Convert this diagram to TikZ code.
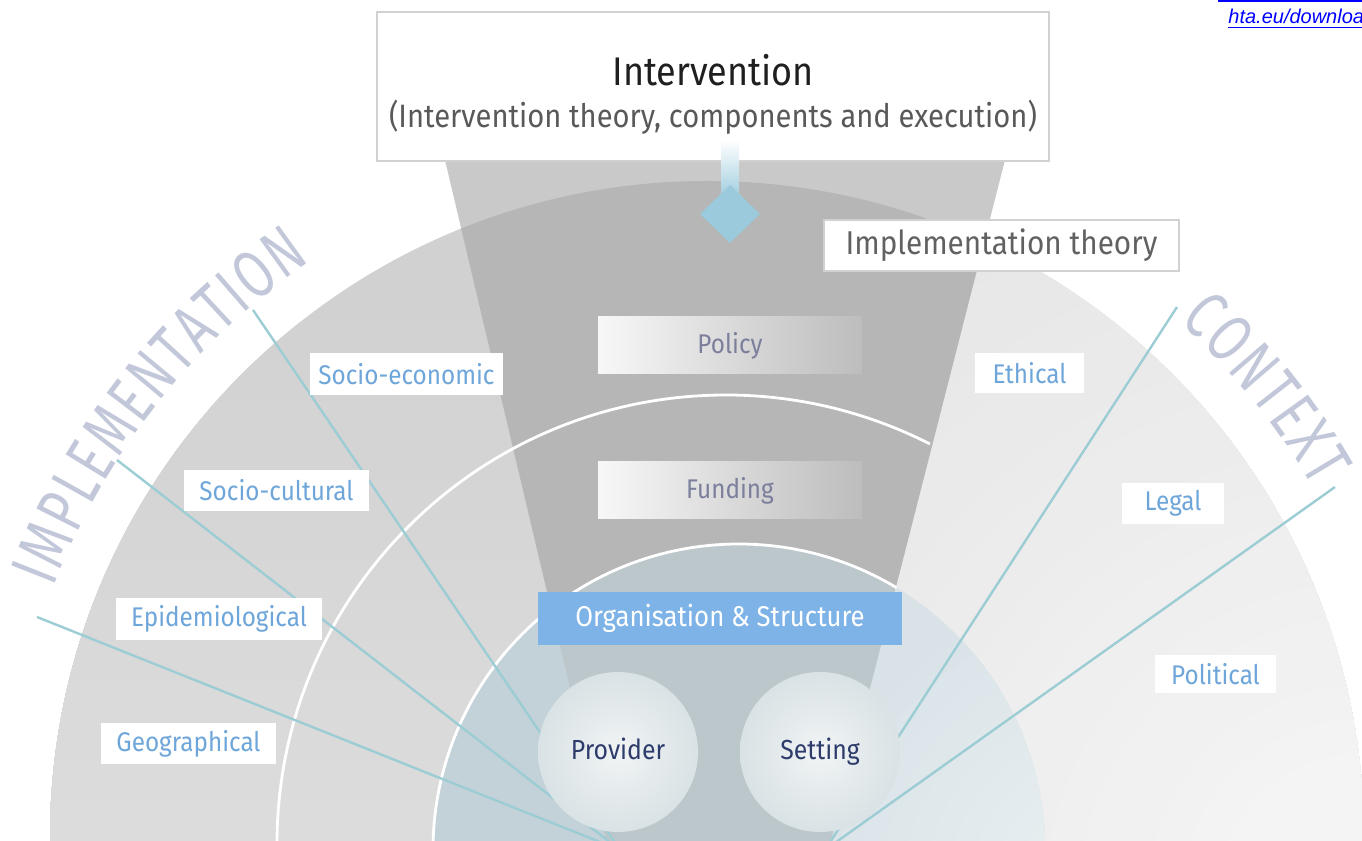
\documentclass[tikz,border=0pt]{standalone}
\usepackage{fontspec}
\setmainfont[FakeStretch=0.9]{Fira Sans}
\newfontfamily\arcfont[FakeStretch=0.72]{Fira Sans}
\newfontfamily\linkfont{Liberation Sans}
\usetikzlibrary{decorations.text}
\definecolor{labelblue}{HTML}{6EA6DA}
\definecolor{funnelout}{HTML}{C9C9C9}
\definecolor{funnelin}{HTML}{B6B6B6}
\definecolor{innerbase}{HTML}{D9E3E7}
\definecolor{innerleft}{HTML}{C3D2D8}
\definecolor{innerfun}{HTML}{BCC7CB}
\definecolor{spokecol}{HTML}{9DCDD4}
\definecolor{arccol}{HTML}{C2C8DA}
\definecolor{orgblue}{HTML}{7DB3E6}
\definecolor{arrowblue}{HTML}{9ACADC}
\definecolor{boxtext}{HTML}{7B7F9C}
\definecolor{navy}{HTML}{2E3C6C}
\definecolor{ballin}{HTML}{F1F4F5}
\definecolor{ballout}{HTML}{D9E2E5}
\definecolor{linkblue}{HTML}{0000FF}
\begin{document}
\begin{tikzpicture}[x=0.5pt,y=0.5pt,
  lbl/.style={fill=white, text=labelblue, inner sep=0pt, font=\fontsize{13.5}{16}\selectfont},
  gbox/.style={inner sep=0pt, minimum width=132pt, minimum height=28.5pt,
    left color=white!97!black, right color=white!74!black, text=boxtext,
    font=\fontsize{13.5}{16}\selectfont},
  ball/.style={circle, minimum size=80pt, inner sep=0pt, inner color=ballin,
    outer color=ballout, text=navy, text height=1.6ex, text depth=0.16ex,
    font=\fontsize{13.8}{16}\selectfont},
  spoke/.style={draw=spokecol, line width=1.2pt},
  whitearc/.style={draw=white, line width=1.4pt},
  framebox/.style={fill=white, draw=black!18, line width=0.6pt, inner sep=0pt}]
\useasboundingbox (0,0) rectangle (1362,841);
\clip (0,0) rectangle (1362,841);
\fill[white] (0,0) rectangle (1362,841);

% big disc: left (implementation) grey, lighter towards the bottom
\begin{scope}
  \clip (707,3) circle[radius=657];
  \fill[black!18] (0,0) rectangle (1362,841);
  \foreach \i in {1,...,14}{
    \pgfmathsetmacro{\p}{18-0.33*\i}
    \pgfmathsetmacro{\h}{560-40*\i}
    \fill[black!\p] (0,0) rectangle (1362,\h);
  }
\end{scope}
% right (context) part, lighter, fading towards the lower right
\begin{scope}
  \clip (707,3) circle[radius=657];
  \clip (831,0) -- (1362,0) -- (1362,841) -- (1046,841) -- cycle;
  \fill[black!9.5] (0,0) rectangle (1362,841);
  \foreach \i in {1,...,18}{
    \pgfmathsetmacro{\p}{9.5-0.28*\i}
    \pgfmathsetmacro{\r}{760-34*\i}
    \fill[black!\p] (1362,-60) circle[radius=\r];
  }
\end{scope}

% funnel
\fill[funnelout] (445,681) -- (1005,681) -- (831,0) -- (606,0) -- cycle;
\begin{scope}
  \clip (707,3) circle[radius=657];
  \fill[funnelin] (445,681) -- (1005,681) -- (831,0) -- (606,0) -- cycle;
\end{scope}

% inner disc
\fill[innerbase] (739,-9) circle[radius=306];
\begin{scope}
  \clip (739,-9) circle[radius=306];
  \foreach \i in {1,...,10}{
    \pgfmathsetmacro{\p}{3.5*\i}
    \pgfmathsetmacro{\r}{330-22*\i}
    \fill[white!\p!innerbase] (1120,-60) circle[radius=\r];
  }
  \fill[innerleft] (0,0) -- (606,0) -- (407,841) -- (0,841) -- cycle;
  \fill[innerfun] (445,681) -- (1005,681) -- (831,0) -- (606,0) -- cycle;
\end{scope}

% white ring arcs
\draw[whitearc] (726,-3) ++(180:449) arc[start angle=180, end angle=63, radius=449];
\draw[whitearc] (739,-9) ++(180:306) arc[start angle=180, end angle=59, radius=306];

% arc texts
\path[decorate, decoration={text along path,
   text={|\arcfont\fontsize{34}{34}\selectfont\color{arccol}|IMPLEMENTATION},
   text align={fit to path}}]
   (707,3) ++(159:700) arc[start angle=159, end angle=124.5, radius=700];
\path[decorate, decoration={text along path,
   text={|\arcfont\fontsize{34}{34}\selectfont\color{arccol}|CONTEXT},
   text align={fit to path}}]
   (707,3) ++(47.5:700) arc[start angle=47.5, end angle=30, radius=700];

% spokes
\coordinate (pfoc) at (620,-9);
\coordinate (sfoc) at (825,-9);
\coordinate (s1) at (253,531);
\coordinate (s2) at (117,381);
\coordinate (s3) at (37,224);
\coordinate (s4) at (1177,534);
\coordinate (s5) at (1335,354);
\draw[spoke] (s1) -- (pfoc);
\draw[spoke] (s2) -- (pfoc);
\draw[spoke] (s3) -- (pfoc);
\draw[spoke] (s4) -- (sfoc);
\draw[spoke] (s5) -- (sfoc);

% labels
\node[lbl, minimum width=96.5pt, minimum height=21pt] (socioeco) at (406.5,467) {Socio-economic};
\node[lbl, minimum width=92.5pt, minimum height=20.5pt] (sociocult) at (276.5,350.5) {Socio-cultural};
\node[lbl, minimum width=103pt, minimum height=21pt] (epid) at (219,222) {Epidemiological};
\node[lbl, minimum width=87.5pt, minimum height=20.5pt] (geo) at (188.5,97.5) {Geographical};
\node[lbl, minimum width=54.5pt, minimum height=20pt] (ethical) at (1029.5,468) {Ethical};
\node[lbl, minimum width=51pt, minimum height=20.5pt] (legal) at (1173,337.5) {Legal};
\node[lbl, minimum width=60.5pt, minimum height=19pt] (political) at (1215.5,167) {Political};

% funnel boxes
\node[gbox] (policy) at (730,495.5) {Policy};
\node[gbox] (funding) at (730,350.5) {Funding};
\node[fill=orgblue, text=white, inner sep=0pt, minimum width=182pt, minimum height=26.5pt,
  font=\fontsize{14.3}{17}\selectfont] (org) at (720,222.5) {Organisation \& Structure};
\node[ball] (provider) at (618,89) {Provider};
\node[ball] (setting) at (820,89) {Setting};

% intervention box
\node[framebox, minimum width=336pt, minimum height=74.5pt] (interv) at (713,754.5) {};
\node[text=black!88, font=\fontsize{20}{24}\selectfont, inner sep=0pt] (intervtitle) at (713,771) {Intervention};
\node[text=black!65, font=\fontsize{16.2}{20}\selectfont, inner sep=0pt] (intervsub) at (713,724) {(Intervention theory, components and execution)};

% arrow
\coordinate (shaftL) at (721,701);
\coordinate (shaftR) at (739,640);
\coordinate (headT) at (730,656);
\coordinate (headL) at (700,627);
\coordinate (headR) at (760,627);
\coordinate (arrowtip) at (730,598);
\shade[top color=white, bottom color=arrowblue] (shaftL) rectangle (shaftR);
\fill[arrowblue] (headT) -- (headL) -- (arrowtip) -- (headR) -- cycle;

% implementation theory
\node[framebox, minimum width=177.5pt, minimum height=25.5pt, text=black!62,
  font=\fontsize{16.5}{20}\selectfont] (impl) at (1001.5,595.5) {Implementation theory};

% link fragment
\draw[linkblue, line width=1pt] (1218,840) -- (1362,840);
\node[anchor=base west, inner sep=0pt, text=linkblue, font=\linkfont\itshape\fontsize{10}{12}\selectfont] (link) at (1228,817) {\underline{hta.eu/downloa}};
\end{tikzpicture}
\end{document}
